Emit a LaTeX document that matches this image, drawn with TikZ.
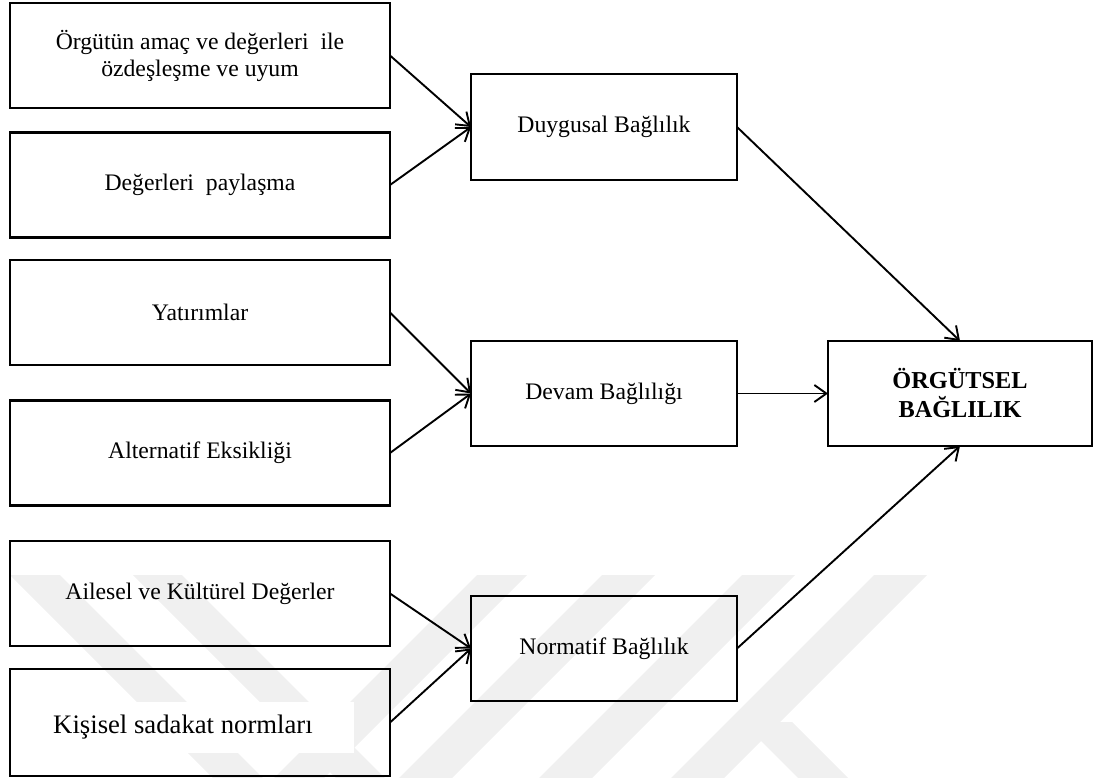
\documentclass[tikz,border=0pt]{standalone}
\usepackage{fontspec}
\setmainfont{Liberation Serif}
\usetikzlibrary{arrows.meta}
\begin{document}
\begin{tikzpicture}[x=1pt,y=-1pt,
  box/.style={draw, line width=2.1pt, minimum width=380pt, minimum height=105pt,
    inner sep=0pt, outer sep=0pt, align=center, font=\fontsize{23.7}{27}\selectfont},
  midbox/.style={box, minimum width=266pt},
  resbox/.style={box, minimum width=264pt, font=\fontsize{24.3}{29}\selectfont\bfseries},
  conn/.style={line width=1.9pt, -{Straight Barb[length=12pt,width=17pt]}},
  wm/.style={fill=black!6, draw=none}]
\useasboundingbox (0,0) rectangle (1093,778);
% watermark
\fill[wm] (10,575) -- (60,575) -- (263,778) -- (213,778) -- cycle;
\fill[wm] (133,575) -- (182,575) -- (385,778) -- (336,778) -- cycle;
\fill[wm] (477,575) -- (527,575) -- (324,778) -- (274,778) -- cycle;
\fill[wm] (602,575) -- (655,575) -- (452,778) -- (399,778) -- cycle;
\fill[wm] (742,575) -- (795,575) -- (592,778) -- (539,778) -- cycle;
\fill[wm] (874,575) -- (927,575) -- (724,778) -- (671,778) -- cycle;
\fill[wm] (742,722) -- (792,722) -- (848,778) -- (798,778) -- cycle;
% left boxes
\node[box] (l1) at (200,55.5) {Örgütün amaç ve değerleri\ \ ile\\özdeşleşme ve uyum};
\node[box] (l2) at (200,185) {Değerleri\ \ paylaşma};
\node[box] (l3) at (200,312.5) {Yatırımlar};
\node[box] (l4) at (200,453) {Alternatif Eksikliği};
\node[box] (l5) at (200,593.5) {Ailesel ve Kültürel Değerler};
\node[box, minimum height=107pt] (l6) at (200,722.5) {};
\node[fill=white, inner sep=0pt, minimum width=341pt, minimum height=51pt,
  font=\fontsize{26.7}{30}\selectfont] (l6t) at (183,727.5) {Kişisel sadakat normları};
% middle boxes
\node[midbox, minimum height=106pt] (m1) at (604,127) {Duygusal Bağlılık};
\node[midbox] (m2) at (604,393.5) {Devam Bağlılığı};
\node[midbox] (m3) at (604,648.5) {Normatif Bağlılık};
% result box
\node[resbox] (r) at (960,393.5) {ÖRGÜTSEL\\BAĞLILIK};
% connectors
\draw[conn] (l1.east) -- (m1.west);
\draw[conn] (l2.east) -- (m1.west);
\draw[conn] (l3.east) -- (m2.west);
\draw[conn] (l4.east) -- (m2.west);
\draw[conn] (l5.east) -- (m3.west);
\draw[conn] (l6.east) -- (m3.west);
\draw[conn] (m1.east) -- (r.north);
\draw[conn] (m2.east) -- (r.west);
\draw[conn] (m3.east) -- (r.south);
\end{tikzpicture}
\end{document}
